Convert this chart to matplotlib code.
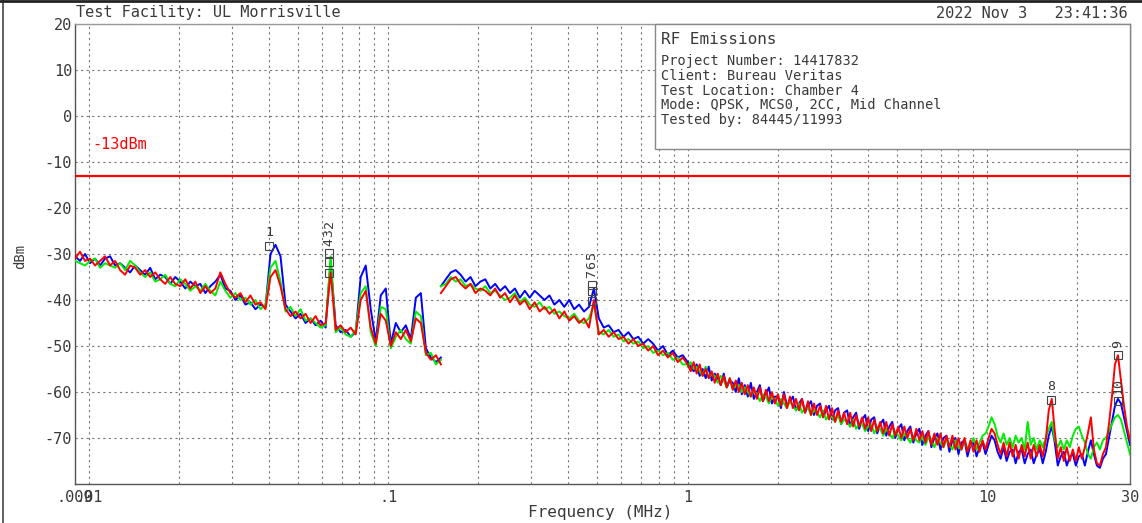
import numpy as np
import matplotlib
matplotlib.use("Agg")
import matplotlib.pyplot as plt
from matplotlib.patches import Rectangle
from matplotlib.lines import Line2D
from matplotlib.ticker import FixedLocator, FixedFormatter, NullFormatter

plt.rcParams["font.family"] = ["DejaVu Sans Mono"]
plt.rcParams["axes.unicode_minus"] = False

# ---------------------------------------------------------------- data
# Sweep segments (MHz): A 9 kHz-150 kHz, B 150 kHz-1 MHz, C 1 MHz-30 MHz
seg_a = (0.009, 0.15, 74)
seg_b = (0.15, 1.0, 51)
seg_c = (1.0, 30.0, 148)

# trace levels (dBm), segment A
blue_a = [-30.5, -31.5, -30.0, -32.0, -31.0, -32.5, -31.0, -30.5, -32.5, -32.0,
          -33.0, -34.0, -32.5, -33.5, -34.5, -33.0, -35.5, -34.5, -35.0, -36.5,
          -35.0, -36.0, -37.5, -36.0, -37.0, -36.5, -38.5, -37.0, -36.0, -34.5,
          -37.5, -38.0, -40.0, -39.0, -41.0, -40.5, -42.0, -41.0, -41.5, -30.0,
          -28.0, -30.5, -41.0, -42.5, -44.0, -43.0, -45.0, -44.0, -45.5, -44.5,
          -46.0, -31.5, -45.5, -47.0, -46.5, -48.0, -47.0, -35.0, -32.5, -42.0,
          -49.0, -39.0, -37.5, -49.5, -45.0, -47.0, -45.5, -48.5, -39.5, -38.5,
          -50.5, -52.5, -53.5, -52.5]
green_a = [-31.5, -32.0, -32.5, -31.5, -31.0, -33.0, -32.0, -32.5, -33.0, -32.0,
           -33.5, -31.5, -32.5, -34.0, -35.0, -34.0, -36.0, -35.5, -34.5, -36.5,
           -37.0, -35.5, -36.5, -38.0, -37.0, -38.0, -36.5, -38.0, -39.0, -36.0,
           -38.0, -39.5, -38.5, -40.0, -39.5, -41.0, -40.0, -42.0, -41.0, -33.0,
           -31.5, -36.0, -42.5, -41.5, -43.5, -42.0, -44.5, -44.0, -45.0, -46.0,
           -45.5, -30.5, -47.0, -46.0, -47.5, -48.0, -46.5, -38.5, -37.0, -47.0,
           -50.0, -41.5, -42.0, -50.5, -48.0, -46.5, -48.5, -49.5, -42.5, -43.5,
           -52.0, -51.5, -54.0, -53.0]
red_a = [-31.0, -29.5, -31.5, -31.0, -32.5, -31.5, -30.5, -32.5, -31.5, -33.5,
         -34.5, -32.5, -33.0, -34.5, -33.5, -35.0, -34.0, -35.5, -36.5, -35.0,
         -36.5, -37.0, -35.5, -37.5, -36.0, -38.5, -37.0, -38.5, -37.5, -34.0,
         -36.5, -38.5, -39.5, -38.5, -40.5, -39.0, -41.0, -40.5, -42.0, -35.0,
         -33.5, -37.0, -42.0, -43.5, -42.5, -44.0, -43.0, -45.0, -43.5, -45.5,
         -45.0, -34.0, -46.5, -45.5, -47.0, -46.0, -47.5, -40.0, -38.0, -46.0,
         -49.5, -43.0, -44.5, -50.0, -47.0, -48.5, -46.5, -49.0, -44.0, -45.0,
         -51.5, -53.0, -52.0, -54.0]

# trace levels (dBm), segment B
blue_b = [-37.0, -35.5, -34.0, -33.5, -34.5, -36.0, -35.0, -37.0, -36.0, -35.5,
          -37.5, -36.5, -38.0, -37.0, -38.5, -37.5, -39.5, -38.0, -39.5, -38.0,
          -39.0, -40.0, -39.0, -41.0, -40.0, -41.5, -40.0, -42.0, -41.0, -42.5,
          -41.5, -37.5, -44.0, -46.0, -45.5, -47.0, -46.5, -48.0, -47.0, -48.5,
          -48.0, -49.5, -48.5, -49.5, -51.0, -50.0, -52.0, -51.0, -52.5, -52.0,
          -53.5]
green_b = [-37.0, -36.5, -35.0, -36.0, -35.5, -37.0, -36.5, -37.5, -38.0, -37.0,
           -38.5, -38.0, -39.0, -40.0, -39.5, -38.5, -40.5, -39.5, -41.0, -41.5,
           -40.5, -42.0, -41.5, -43.0, -42.5, -43.5, -44.0, -43.0, -44.5, -45.0,
           -44.0, -41.0, -47.0, -47.5, -46.5, -48.0, -47.5, -49.0, -48.5, -49.5,
           -49.0, -50.5, -50.0, -51.5, -51.0, -52.0, -51.5, -53.0, -52.5, -54.0,
           -54.0]
red_b = [-38.5, -37.0, -35.5, -35.0, -36.5, -37.5, -36.5, -38.5, -37.5, -38.0,
         -39.0, -37.5, -39.5, -38.5, -40.5, -39.0, -41.0, -40.0, -42.0, -40.5,
         -42.5, -41.5, -43.0, -42.0, -44.0, -42.5, -44.5, -43.5, -45.0, -44.0,
         -46.0, -40.0, -47.5, -46.5, -48.0, -47.0, -48.5, -48.0, -49.5, -48.5,
         -50.0, -49.5, -51.0, -50.0, -52.0, -51.0, -52.5, -51.5, -53.5, -52.5,
         -54.0]

# trace levels (dBm), segment C
blue_c = [-53.5, -54.5, -55.5, -54.0, -56.5, -55.0, -57.0, -54.5, -57.5, -56.0,
          -57.0, -58.5, -56.0, -59.0, -57.5, -58.0, -60.0, -57.0, -60.5, -58.5,
          -61.0, -58.0, -61.5, -60.0, -58.5, -62.0, -60.5, -59.0, -62.5, -61.0,
          -61.0, -63.5, -60.0, -63.0, -62.0, -61.0, -64.0, -62.5, -61.5, -64.5,
          -63.0, -62.0, -65.0, -63.0, -62.5, -65.5, -64.0, -63.0, -66.0, -64.0,
          -63.5, -67.0, -64.5, -64.0, -67.5, -65.5, -64.5, -68.0, -66.0, -65.0,
          -68.5, -66.0, -65.5, -69.0, -67.0, -66.0, -69.5, -67.5, -66.5, -70.0,
          -68.0, -67.0, -70.5, -68.5, -67.5, -71.0, -69.0, -68.0, -71.5, -69.5,
          -68.5, -72.0, -70.0, -69.0, -72.5, -70.0, -69.5, -73.0, -70.5, -70.0,
          -73.5, -71.0, -70.5, -74.0, -71.5, -71.0, -74.0, -72.0, -71.0, -73.5,
          -71.5, -69.5, -70.5, -73.0, -74.5, -72.0, -75.0, -73.0, -72.5, -75.5,
          -73.0, -72.5, -75.5, -73.5, -72.5, -75.5, -73.5, -72.5, -75.5, -73.0,
          -69.5, -67.5, -71.0, -76.0, -74.0, -73.0, -76.0, -74.0, -73.5, -76.0,
          -74.0, -73.5, -76.0, -73.0, -70.5, -73.5, -76.0, -76.5, -74.5, -73.5,
          -70.0, -66.5, -63.0, -61.5, -62.5, -65.5, -68.5, -71.5]
green_c = [-54.5, -53.5, -55.0, -54.5, -55.5, -56.5, -54.5, -57.0, -56.0, -56.5,
           -58.0, -56.5, -57.5, -59.0, -57.0, -59.5, -58.5, -58.5, -60.0, -59.0,
           -60.0, -61.0, -59.5, -60.5, -62.0, -60.5, -61.0, -62.5, -61.0, -61.5,
           -63.0, -61.5, -62.5, -63.5, -62.0, -63.0, -64.0, -62.5, -64.5, -63.5,
           -63.5, -65.0, -64.0, -64.5, -65.5, -64.0, -66.0, -65.0, -65.5, -66.5,
           -65.0, -67.0, -66.0, -66.5, -67.5, -66.0, -68.0, -67.0, -67.0, -68.5,
           -67.5, -67.0, -69.0, -67.5, -68.0, -69.5, -68.0, -69.0, -70.0, -68.5,
           -69.5, -70.5, -69.0, -70.0, -71.0, -69.5, -70.5, -71.0, -69.5, -71.5,
           -70.0, -70.5, -72.0, -70.0, -71.0, -72.0, -70.5, -71.5, -72.5, -70.5,
           -72.0, -72.5, -70.5, -72.5, -71.5, -70.0, -72.5, -71.0, -69.5, -69.0,
           -67.5, -65.5, -67.0, -69.5, -71.0, -69.0, -71.5, -70.0, -72.0, -69.5,
           -71.0, -70.0, -72.5, -66.5, -71.5, -70.0, -72.5, -70.5, -72.0, -70.0,
           -68.0, -66.5, -70.5, -72.0, -70.5, -72.5, -70.5, -72.0, -69.5, -68.0,
           -67.5, -69.5, -71.0, -73.5, -74.5, -72.0, -71.0, -72.5, -70.5, -70.0,
           -68.5, -67.0, -65.5, -65.0, -66.0, -68.5, -71.0, -73.5]
red_c = [-54.0, -55.5, -53.5, -56.0, -54.0, -56.5, -55.0, -57.0, -55.5, -58.0,
         -56.0, -58.5, -56.5, -59.0, -57.0, -59.5, -57.5, -60.0, -58.0, -60.5,
         -58.5, -61.0, -59.0, -61.5, -59.0, -62.0, -59.5, -62.0, -60.0, -62.5,
         -60.5, -63.0, -60.5, -63.5, -61.0, -63.5, -61.5, -64.0, -61.5, -64.5,
         -62.0, -65.0, -62.5, -65.0, -63.0, -65.5, -63.0, -66.0, -63.5, -66.5,
         -64.0, -66.5, -64.5, -67.0, -64.5, -67.5, -65.0, -67.5, -65.5, -68.0,
         -65.5, -68.5, -66.0, -68.5, -66.5, -69.0, -66.5, -69.5, -67.0, -69.5,
         -67.5, -70.0, -67.5, -70.0, -68.0, -70.5, -68.0, -70.5, -68.5, -71.0,
         -68.5, -71.5, -69.0, -71.5, -69.0, -72.0, -69.5, -72.0, -69.5, -72.5,
         -70.0, -72.5, -70.0, -73.0, -70.5, -73.0, -70.5, -73.0, -70.5, -72.5,
         -70.0, -68.0, -69.0, -71.5, -73.5, -71.0, -74.0, -71.0, -74.0, -71.5,
         -74.5, -71.5, -74.0, -71.0, -74.5, -71.5, -74.0, -71.5, -74.0, -70.5,
         -64.0, -61.5, -68.5, -74.5, -72.0, -75.0, -72.0, -75.0, -72.5, -75.0,
         -72.0, -74.5, -72.0, -69.0, -65.5, -72.5, -75.5, -76.0, -73.5, -72.0,
         -67.0, -61.0, -54.0, -52.0, -57.5, -63.0, -67.5, -70.5]

# limit
limit_dbm = -13.0
limit_label = "-13dBm"

# markers
marker_labels = ["1", "2", "3", "4", "5", "6", "7", "8", "9", "10"]
marker_freq = [0.0401, 0.0635, 0.0635, 0.0635, 0.479, 0.479, 0.479, 16.4, 27.3, 27.3]
marker_level = [-28.3, -29.8, -31.7, -34.1, -36.7, -38.0, -40.2, -61.7, -52.0, -62.0]

# axes
x_major = [0.009, 0.01, 0.1, 1, 10, 30]
x_major_labels = [".009", ".01", ".1", "1", "10", "30"]
x_minor = [0.02, 0.03, 0.04, 0.05, 0.06, 0.07, 0.08, 0.09,
           0.2, 0.3, 0.4, 0.5, 0.6, 0.7, 0.8, 0.9,
           2, 3, 4, 5, 6, 7, 8, 9, 20]
y_ticks = [-70, -60, -50, -40, -30, -20, -10, 0, 10, 20]

title_left = "Test Facility: UL Morrisville"
title_right = "2022 Nov 3   23:41:36"
info_title = "RF Emissions"
info_lines = ["Project Number: 14417832",
              "Client: Bureau Veritas",
              "Test Location: Chamber 4",
              "Mode: QPSK, MCS0, 2CC, Mid Channel",
              "Tested by: 84445/11993"]

# ---------------------------------------------------------------- figure
W, H = 1142, 523
TXT = "#3a3a3a"
fig = plt.figure(figsize=(W / 100, H / 100), dpi=100)
fig.patch.set_facecolor("white")


def fx(px):
    return px / W


def fy(py):
    return 1 - py / H


ax = fig.add_axes([fx(75), fy(484), (1130 - 75) / W, (484 - 24) / H])
ax.set_xscale("log")
ax.set_xlim(0.009, 30)
ax.set_ylim(-80, 20)

ax.xaxis.set_major_locator(FixedLocator(x_major))
ax.xaxis.set_major_formatter(FixedFormatter(x_major_labels))
ax.xaxis.set_minor_locator(FixedLocator(x_minor))
ax.xaxis.set_minor_formatter(NullFormatter())
ax.set_yticks(y_ticks)
ax.set_yticklabels([str(v) for v in y_ticks])

ax.grid(which="both", linestyle=(0, (2, 3)), color="#777777", linewidth=0.8)
ax.tick_params(which="both", length=0, labelsize=11, colors=TXT)
ax.tick_params(axis="y", pad=2)
ax.tick_params(axis="x", pad=4)
for side, col in (("left", "#555555"), ("bottom", "#555555"),
                  ("right", "#666666"), ("top", "#999999")):
    ax.spines[side].set_color(col)
    ax.spines[side].set_linewidth(1.0)

segments = [(seg_a, blue_a, green_a, red_a),
            (seg_b, blue_b, green_b, red_b),
            (seg_c, blue_c, green_c, red_c)]
for (f0, f1, n), b, g, r in segments:
    freqs = np.geomspace(f0, f1, n)
    ax.plot(freqs, b, color="#0000ff", lw=1.4, zorder=3)
    ax.plot(freqs, g, color="#00ee00", lw=1.4, zorder=4)
    ax.plot(freqs, r, color="#ff0000", lw=1.4, zorder=5)

ax.axhline(limit_dbm, color="#ff0000", lw=1.6, zorder=6)
ax.text(0.0103, limit_dbm + 6.8, limit_label, color="#ff0000", fontsize=11,
        va="center", ha="left")

# marker symbols
ax.plot(marker_freq, marker_level, ls="none", marker="s", ms=6,
        mfc="none", mec="#444444", mew=0.8, zorder=7)

# marker labels: markers sitting at the same frequency within a few dB are
# stacked in one column above the highest square of the group
groups = []
for i in range(len(marker_labels)):
    if (groups and marker_freq[groups[-1][-1]] == marker_freq[i]
            and abs(marker_level[groups[-1][-1]] - marker_level[i]) < 5):
        groups[-1].append(i)
    else:
        groups.append([i])
for grp in groups:
    top = max(marker_level[i] for i in grp)
    upright = len(grp) == 1 and marker_labels[grp[0]] in ("1", "8")
    for rank, i in enumerate(reversed(grp)):
        ax.annotate(marker_labels[i], (marker_freq[i], top),
                    xytext=(0, 5 + 6.5 * rank), textcoords="offset points",
                    ha="center", va="bottom", rotation=0 if upright else 90,
                    fontsize=9.5, color=TXT, zorder=8)

# annotation box
box = Rectangle((fx(655), fy(149)), fx(1130) - fx(655), (149 - 24) / H,
                transform=fig.transFigure, facecolor="white",
                edgecolor="#888888", lw=1.0, zorder=2)
fig.add_artist(box)
fig.text(fx(661), fy(39), info_title, fontsize=11.5, va="center", ha="left",
         color=TXT, zorder=3)
for i, line in enumerate(info_lines):
    fig.text(fx(661), fy(61 + 14.8 * i), line, fontsize=9.8, va="center",
             ha="left", color=TXT, zorder=3)

# header and axis titles
fig.text(fx(76), fy(13), title_left, fontsize=11, va="center", ha="left",
         color=TXT)
fig.text(fx(1128), fy(14), title_right, fontsize=11, va="center", ha="right",
         color=TXT)
fig.text(fx(600), fy(513), "Frequency (MHz)", fontsize=11.5, va="center",
         ha="center", color=TXT)
fig.text(fx(20), fy(256), "dBm", fontsize=10, rotation=90, va="center",
         ha="center", color=TXT)

# page frame
fig.add_artist(Line2D([fx(2.5), fx(2.5)], [0, 1], transform=fig.transFigure,
                      color="#444444", lw=1.2))
fig.add_artist(Line2D([0, 1], [fy(1), fy(1)], transform=fig.transFigure,
                      color="#222222", lw=2.0))

fig.savefig("out.png", dpi=100, facecolor="white")
